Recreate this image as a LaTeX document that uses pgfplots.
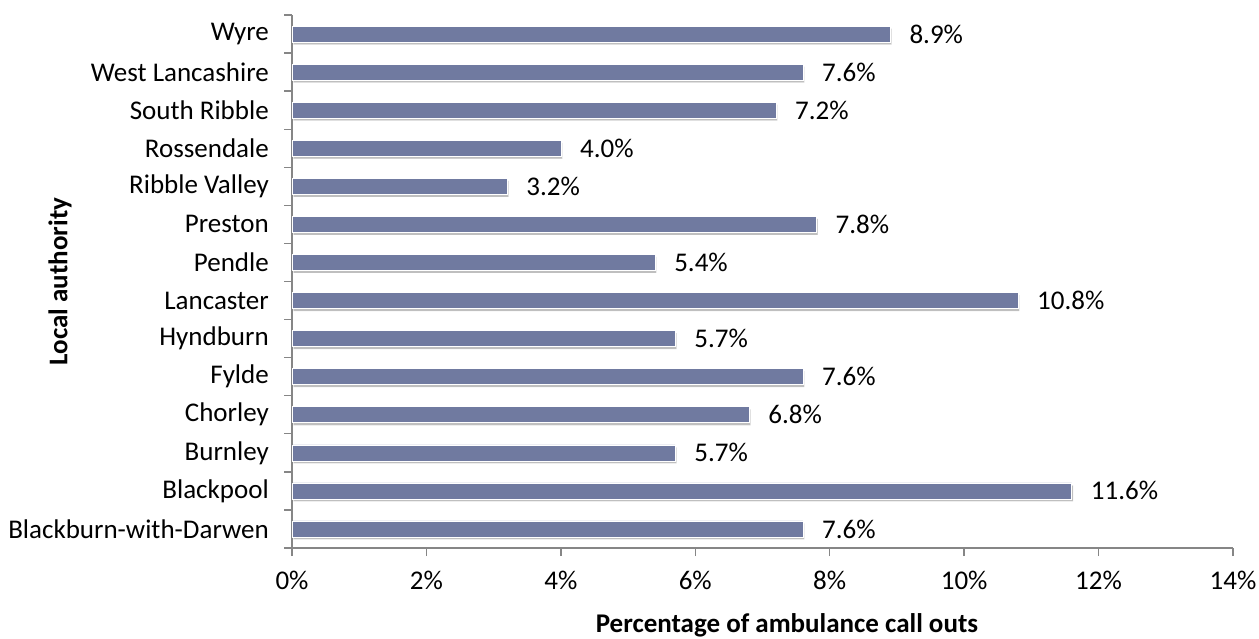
\documentclass[border=0pt]{standalone}
\usepackage{pgfplots}
\pgfplotsset{compat=1.18}
\usepackage{fontspec}
\setmainfont{Carlito}
\usetikzlibrary{shadows}
\definecolor{barblue}{RGB}{112,122,160}
\definecolor{axgray}{RGB}{134,134,134}
\begin{document}
\fontsize{27}{32}\selectfont
\begin{tikzpicture}
\path[use as bounding box] (0,0) rectangle (1259pt,638pt);
\begin{axis}[
  at={(292pt,90pt)}, anchor=south west,
  scale only axis, width=941pt, height=533pt,
  xbar, bar width=16pt,
  xmin=0, xmax=14, ymin=-0.5, ymax=13.5,
  axis x line*=bottom, axis y line*=left,
  axis line style={axgray, line width=1.3pt},
  xtick={0,2,...,14},
  xticklabel={\pgfmathprintnumber{\tick}\%},
  /pgf/number format/assume math mode=true,
  ytick={0,...,13},
  yticklabels={Blackburn-with-Darwen,Blackpool,Burnley,Chorley,Fylde,Hyndburn,Lancaster,Pendle,Preston,Ribble Valley,Rossendale,South Ribble,West Lancashire,Wyre},
  minor ytick={-0.5,0.5,...,13.5},
  every major y tick/.style={draw=none},
  every minor y tick/.style={axgray, line width=1.3pt},
  x tick style={axgray, line width=1.3pt},
  tick align=outside,
  major tick length=8pt,
  minor tick length=8pt,
  xticklabel style={anchor=base, yshift=-33pt, text=black},
  yticklabel style={anchor=east, xshift=-6pt, text=black},
  xlabel={\textbf{Percentage of ambulance call outs}},
  ylabel={\textbf{Local authority}},
  every axis x label/.style={at={(axis description cs:0.526,-0.145)}, anchor=center},
  every axis y label/.style={at={(axis description cs:-0.2466,0.5)}, rotate=90, anchor=center},
  nodes near coords={\pgfmathprintnumber[fixed,fixed zerofill,precision=1]{\pgfplotspointmeta}\%},
  point meta=x,
  nodes near coords style={anchor=west, xshift=10pt, text=black, /pgf/number format/assume math mode=true},
  clip=false,
]
\addplot[fill=barblue, draw=white, line width=0.6pt,
  drop shadow={shadow xshift=1.5pt, shadow yshift=-2.5pt, fill=black, opacity=0.25}]
  coordinates {
  (7.6,0) (11.6,1) (5.7,2) (6.8,3) (7.6,4) (5.7,5) (10.8,6) (5.4,7) (7.8,8) (3.2,9) (4.0,10) (7.2,11) (7.6,12) (8.9,13)
};
\end{axis}
\end{tikzpicture}
\end{document}
